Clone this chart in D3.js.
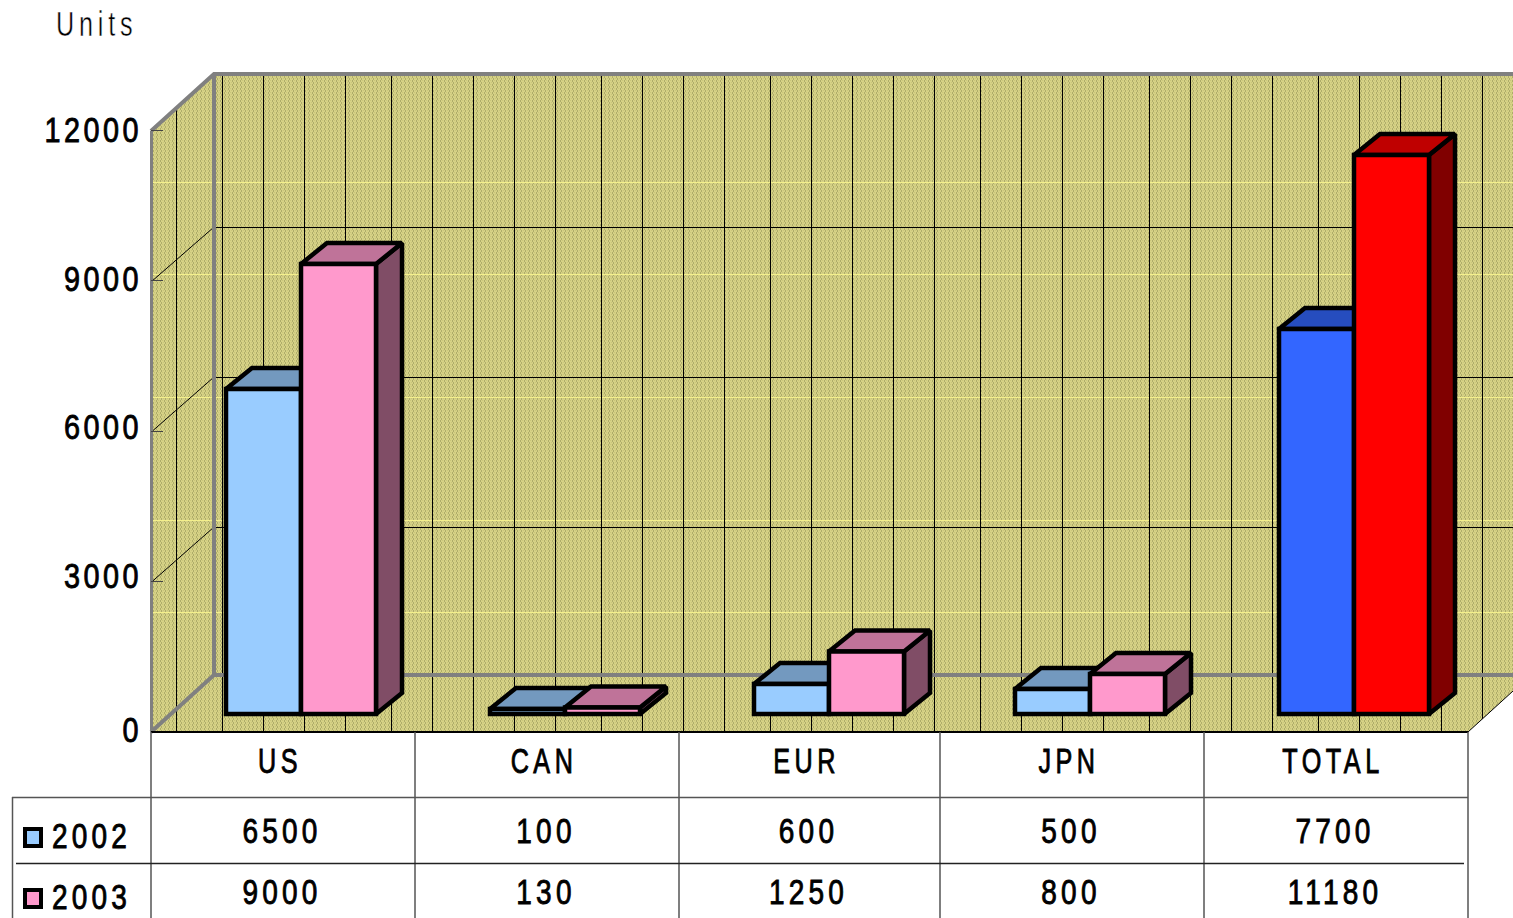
<!DOCTYPE html>
<html>
<head>
<meta charset="utf-8">
<script src="https://cdn.jsdelivr.net/npm/d3@7/dist/d3.min.js"></script>
<style>
html,body{margin:0;padding:0;background:#fff;overflow:hidden}
svg{display:block}
text{font-family:"Liberation Sans",sans-serif;fill:#000}
</style>
</head>
<body>
<script>
const categories = ["US","CAN","EUR","JPN","TOTAL"];
const seriesNames = ["2002","2003"];
const values2002 = [6500,100,600,500,7700];
const values2003 = [9000,130,1250,800,11180];
const yTicks = [0,3000,6000,9000,12000];
const yTitle = "Units";
const fills2002 = ["#99ccff","#99ccff","#99ccff","#99ccff","#3366ff"];
const fills2003 = ["#ff99cc","#ff99cc","#ff99cc","#ff99cc","#ff0000"];

const W=1513,H=918;
const columnEdges=[151,415,679,940,1204,1468];
const gridStart=176;
const gridSteps=[46,41,41,41,46,41,41,41,41,46,41,41,41,46,41,41,41,41,46,41,41,41,46,41,41,41,46,41,41,41,41];
const paleRows=[182,274,397,520,612];
const barDepth={x:26,y:21};
const barWidth=75, barCentre=150;

const col=d3.scaleOrdinal(categories,columnEdges);
const yFront=d3.scaleLinear([0,12000],[732,131]);
const yBack=d3.scaleLinear([0,12000],[675,75]);
const yBar=d3.scaleLinear([0,12000],[714,114]);
const yLabel=d3.scaleLinear([0,3000,12000],[742,588,142]);

const svg=d3.select("body").append("svg").attr("width",W).attr("height",H);
const defs=svg.append("defs");
const pat=defs.append("pattern").attr("id","wall").attr("patternUnits","userSpaceOnUse").attr("width",4).attr("height",4);
pat.append("rect").attr("width",4).attr("height",4).attr("fill","#d6d286");
[[0,0,"#aeac69"],[0,1,"#aeac69"],[1,2,"#aeac69"],[1,3,"#aeac69"],[2,0,"#c8c47a"],[3,2,"#c8c47a"]].forEach(p=>
  pat.append("rect").attr("x",p[0]).attr("y",p[1]).attr("width",1).attr("height",1).attr("fill",p[2]));
const wallPts=[[151,131],[214,74],[W,74],[W,691],[1468,732],[151,732]];
defs.append("clipPath").attr("id","wallClip").append("polygon").attr("points",wallPts.join(" "));

svg.append("polygon").attr("points",wallPts.join(" ")).attr("fill","url(#wall)");

const grid=svg.append("g").attr("clip-path","url(#wallClip)");
grid.selectAll("line.pale").data(paleRows).join("line").attr("class","pale")
  .attr("x1",152).attr("x2",W).attr("y1",d=>d+.5).attr("y2",d=>d+.5)
  .attr("stroke","#f4f08c").attr("stroke-width",1);
const gridXs=Array.from(d3.cumsum(gridSteps),d=>d+gridStart);
grid.selectAll("line.vert").data([gridStart,...gridXs]).join("line").attr("class","vert")
  .attr("x1",d=>d+.5).attr("x2",d=>d+.5).attr("y1",74).attr("y2",732)
  .attr("stroke","#000").attr("stroke-width",1);
const inner=yTicks.filter(t=>t>0&&t<12000);
grid.selectAll("line.back").data(inner).join("line").attr("class","back")
  .attr("x1",214).attr("x2",W).attr("y1",d=>yBack(d)+2.5).attr("y2",d=>yBack(d)+2.5)
  .attr("stroke","#000").attr("stroke-width",1);
grid.selectAll("line.diag").data(inner).join("line").attr("class","diag")
  .attr("x1",153).attr("y1",d=>yFront(d)-1).attr("x2",214).attr("y2",d=>yBack(d)+2)
  .attr("stroke","#000").attr("stroke-width",1);

// grey frame
const frame=svg.append("g").attr("fill","none").attr("stroke","#808080").attr("stroke-width",4);
frame.append("path").attr("d",`M151,${yFront(12000)}L214,74H${W}M214,74V${yBack(0)}H${W}M214,${yBack(0)}L151,${yFront(0)}`);
frame.append("line").attr("x1",151.5).attr("x2",151.5).attr("y1",yFront(12000)).attr("y2",yFront(0)).attr("stroke-width",3);
svg.append("g").selectAll("line").data(yTicks.filter(t=>t>0)).join("line")
  .attr("x1",151).attr("x2",163).attr("y1",d=>Math.round(yFront(d))-.5).attr("y2",d=>Math.round(yFront(d))-.5)
  .attr("stroke","#444").attr("stroke-width",1);
svg.append("line").attr("x1",151).attr("x2",1468).attr("y1",732).attr("y2",732).attr("stroke","#000").attr("stroke-width",2);
svg.append("line").attr("x1",1468).attr("y1",732).attr("x2",W).attr("y2",691).attr("stroke","#000").attr("stroke-width",1);

// bars
const shade=(c,k)=>{const r=d3.rgb(c);return d3.rgb(r.r*k,r.g*k,r.b*k).formatHex();};
function drawBars(values,fills,x0){
  const g=svg.append("g").attr("stroke","#000").attr("stroke-width",4.5)
    .attr("stroke-linejoin","miter").attr("stroke-miterlimit",1.5);
  categories.forEach((c,i)=>{
    const x=col(c)+barCentre+x0, w=barWidth, y=yBar(values[i]), b=yBar(0), dx=barDepth.x, dy=barDepth.y;
    g.append("polygon").attr("points",[[x+w,y],[x+w+dx,y-dy],[x+w+dx,b-dy],[x+w,b]].join(" ")).attr("fill",shade(fills[i],.5));
    g.append("polygon").attr("points",[[x,y],[x+dx,y-dy],[x+w+dx,y-dy],[x+w,y]].join(" ")).attr("fill",shade(fills[i],.75));
    g.append("rect").attr("x",x).attr("y",y).attr("width",w).attr("height",b-y).attr("fill",fills[i]);
  });
}
drawBars(values2002,fills2002,-barWidth);
drawBars(values2003,fills2003,0);

// squeezed text helper
function place(sel,x,y,size,gap,anchor,squeeze){
  sel.attr("transform",(d,i)=>`translate(${x(d,i)},${y(d,i)}) scale(${squeeze},1)`)
     .attr("x",0).attr("y",0).attr("dy",null).attr("text-anchor",anchor)
     .style("font-size",size+"px").style("letter-spacing",(gap/squeeze)+"px")
     .attr("stroke","#000").attr("stroke-width",.9).attr("fill","#000");
}

// y axis
const axis=svg.append("g")
  .call(d3.axisLeft(yFront).tickValues(yTicks).tickSize(0).tickFormat(d3.format("d")));
axis.select(".domain").remove();
axis.selectAll(".tick").attr("transform",null);
place(axis.selectAll(".tick text"),()=>142,d=>yLabel(d),36,3.5,"end",.8);

const title=svg.append("text").datum(yTitle).text(d=>d);
place(title,()=>56,()=>36,35,4.8,"start",.72);
title.attr("stroke","#fff").attr("stroke-width",.5);

// table
const tbl=svg.append("g").attr("stroke","#555").attr("stroke-width",1.5);
tbl.selectAll("line.v").data(columnEdges).join("line").attr("class","v")
  .attr("x1",d=>d).attr("x2",d=>d).attr("y1",732).attr("y2",H);
tbl.append("line").attr("x1",12.5).attr("x2",12.5).attr("y1",797).attr("y2",H);
tbl.append("line").attr("x1",12).attr("x2",1468).attr("y1",797.5).attr("y2",797.5);
tbl.append("line").attr("x1",16).attr("x2",1464).attr("y1",863.5).attr("y2",863.5).attr("stroke","#222");

const cellText=(y,arr,shift,gap,sq)=>{
  const s=svg.append("g").selectAll("text").data(arr).join("text").text(d=>d);
  place(s,(d,i)=>(columnEdges[i]+columnEdges[i+1])/2+shift,()=>y,35,gap,"middle",sq);
};
cellText(773,categories,-3,4.5,.72);
cellText(843,values2002,-1,4.2,.8);
cellText(904,values2003,-1,4.2,.8);

// legend
const legend=svg.append("g").selectAll("g").data(seriesNames).join("g");
legend.append("rect").attr("x",25).attr("width",16).attr("height",17)
  .attr("y",(d,i)=>[829,890][i]).attr("fill",(d,i)=>[fills2002[0],fills2003[0]][i])
  .attr("stroke","#000").attr("stroke-width",4);
place(legend.append("text").text(d=>d),()=>52,(d,i)=>[848,909][i],35,4.2,"start",.8);
</script>
</body>
</html>
